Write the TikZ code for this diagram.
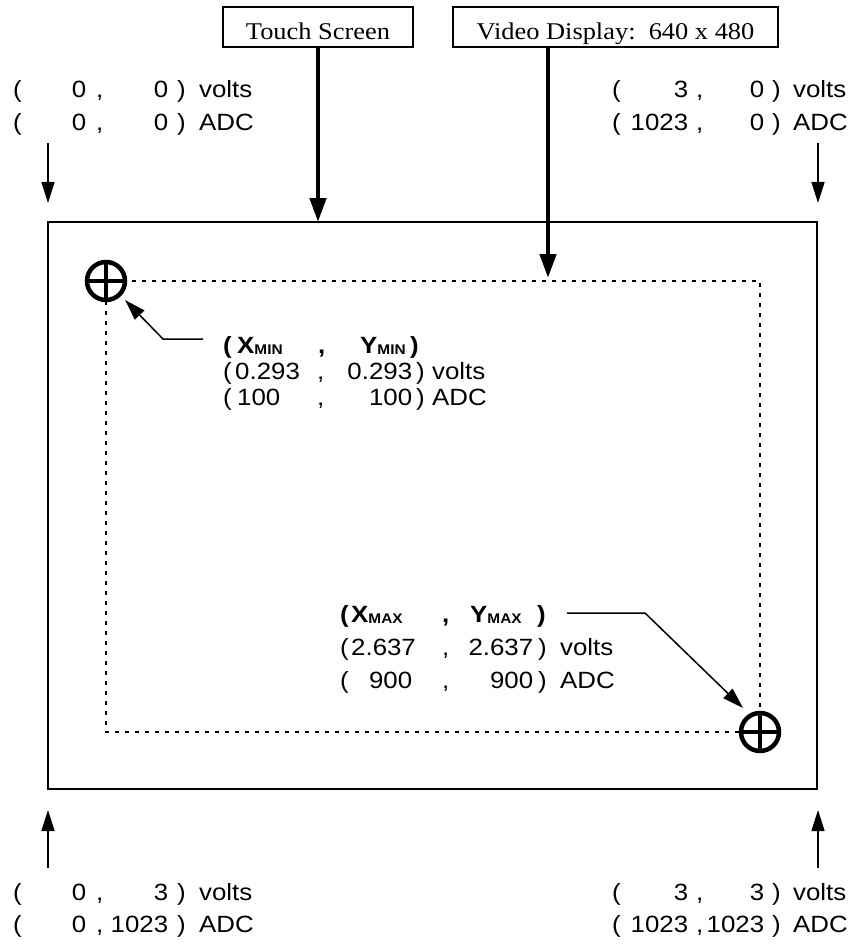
\documentclass[tikz,border=0pt]{standalone}
\usepackage{fontspec}
\newfontfamily\sfx[FakeStretch=1.1]{Liberation Sans}
\newfontfamily\rmx[FakeStretch=1.1]{Liberation Serif}
\usetikzlibrary{arrows.meta}
\newcommand\atl[2]{\makebox[0pt][l]{\hspace*{#1pt}#2}}
\newcommand\atr[2]{\makebox[0pt][l]{\hspace*{#1pt}\makebox[0pt][r]{#2}}}
\newcommand\subx[1]{\raisebox{-1.5pt}{\fontsize{14}{14}\selectfont #1}}
\tikzset{
 lbl/.style={inner sep=0pt, anchor=base west, font=\sfx\fontsize{23.5}{23.5}\selectfont},
 blbl/.style={lbl, font=\sfx\bfseries\fontsize{23.5}{23.5}\selectfont},
 tbox/.style={draw, line width=2pt, inner sep=0pt, text height=33pt, text depth=7pt, minimum height=40pt, font=\rmx\fontsize{24}{24}\selectfont},
 frame/.style={line width=2pt},
 dotline/.style={line width=2pt, dash pattern=on 4pt off 6pt},
 bigarrow/.style={line width=4.5pt, -{Triangle[length=24pt,width=16pt]}},
 thinarrow/.style={line width=1.5pt, -{Triangle[length=21pt,width=13pt]}},
 cross/.style={circle, draw, line width=4.5pt, minimum size=38pt, fill=white, inner sep=0pt},
 crossbar/.style={line width=4pt},
}
\begin{document}
\begin{tikzpicture}[x=1pt,y=-1pt]
\useasboundingbox (0,0) rectangle (863,944);
% top boxes
\node[tbox, minimum width=190pt] (ts) at (318,27) {Touch Screen};
\node[tbox, minimum width=325pt] (vd) at (615.5,27) {Video Display:\ \ 640 x 480};
% frames
\coordinate (F1) at (48,222);
\coordinate (F2) at (817,789);
\draw[frame] (F1) rectangle (F2);
\coordinate (D1) at (106,281);
\coordinate (D2) at (760,732);
\draw[dotline] (D1) rectangle (D2);
% big arrows
\coordinate (vdtip) at (548,278);
\draw[bigarrow] (ts.south) -- (ts.south |- F1);
\draw[bigarrow] (vd.south -| vdtip) -- (vdtip);
% corner arrows
\coordinate (a1s) at (48,143); \coordinate (a1e) at (48,203);
\coordinate (a2s) at (818,143); \coordinate (a2e) at (818,203);
\coordinate (a3s) at (48,868); \coordinate (a3e) at (48,810);
\coordinate (a4s) at (818,868); \coordinate (a4e) at (818,810);
\draw[thinarrow] (a1s) -- (a1e);
\draw[thinarrow] (a2s) -- (a2e);
\draw[thinarrow] (a3s) -- (a3e);
\draw[thinarrow] (a4s) -- (a4e);
% crosshairs
\node[cross] (c1) at (D1) {};
\draw[crossbar] (c1.north) -- (c1.south) (c1.west) -- (c1.east);
\node[cross] (c2) at (D2) {};
\draw[crossbar] (c2.north) -- (c2.south) (c2.west) -- (c2.east);
% callouts
\coordinate (k1a) at (203,339); \coordinate (k1b) at (163,339); \coordinate (k1c) at (125,300);
\draw[thinarrow] (k1a) -- (k1b) -- (k1c);
\coordinate (k2a) at (567,613); \coordinate (k2b) at (645,613); \coordinate (k2c) at (743,708);
\draw[thinarrow] (k2a) -- (k2b) -- (k2c);
% corner labels
\node[lbl] (tl1) at (13,98) {\atl{0}{(}\atr{73}{0}\atl{83}{,}\atr{155}{0}\atl{164}{)}\atl{186}{volts}\hspace*{240pt}};
\node[lbl] (tl2) at (13,131) {\atl{0}{(}\atr{73}{0}\atl{83}{,}\atr{155}{0}\atl{164}{)}\atl{186}{ADC}\hspace*{240pt}};
\node[lbl] (tr1) at (612,98) {\atl{0}{(}\atr{76}{3}\atl{84}{,}\atr{152}{0}\atl{160}{)}\atl{181}{volts}\hspace*{240pt}};
\node[lbl] (tr2) at (612,131) {\atl{0}{(}\atr{76}{1023}\atl{84}{,}\atr{152}{0}\atl{160}{)}\atl{181}{ADC}\hspace*{240pt}};
\node[lbl] (bl1) at (13,900) {\atl{0}{(}\atr{73}{0}\atl{83}{,}\atr{155}{3}\atl{164}{)}\atl{186}{volts}\hspace*{240pt}};
\node[lbl] (bl2) at (13,932) {\atl{0}{(}\atr{73}{0}\atl{83}{,}\atr{155}{1023}\atl{164}{)}\atl{186}{ADC}\hspace*{240pt}};
\node[lbl] (br1) at (612,900) {\atl{0}{(}\atr{76}{3}\atl{84}{,}\atr{152}{3}\atl{160}{)}\atl{181}{volts}\hspace*{240pt}};
\node[lbl] (br2) at (612,932) {\atl{0}{(}\atr{76}{1023}\atl{84}{,}\atr{152}{1023}\atl{160}{)}\atl{181}{ADC}\hspace*{240pt}};
% min point labels
\node[blbl] (mn0) at (223,353) {\atl{0}{(}\atl{14}{X\subx{MIN}}\atl{95}{,}\atl{137}{Y\subx{MIN}}\atl{187}{)}\hspace*{200pt}};
\node[lbl] (mn1) at (223,379) {\atl{0}{(}\atl{12}{0.293}\atl{94}{,}\atr{189}{0.293}\atl{193}{)}\atl{209}{volts}\hspace*{270pt}};
\node[lbl] (mn2) at (223,405) {\atl{0}{(}\atl{14}{100}\atl{94}{,}\atr{189}{100}\atl{193}{)}\atl{209}{ADC}\hspace*{270pt}};
% max point labels
\node[blbl] (mx0) at (340,622) {\atl{0}{(}\atl{11}{X\subx{MAX}}\atl{102}{,}\atl{130}{Y\subx{MAX}}\atl{197}{)}\hspace*{210pt}};
\node[lbl] (mx1) at (340,655) {\atl{0}{(}\atl{11}{2.637}\atl{102}{,}\atr{193}{2.637}\atl{198}{)}\atl{220}{volts}\hspace*{280pt}};
\node[lbl] (mx2) at (340,688) {\atl{0}{(}\atr{72}{900}\atl{102}{,}\atr{193}{900}\atl{198}{)}\atl{220}{ADC}\hspace*{280pt}};
\end{tikzpicture}
\end{document}
